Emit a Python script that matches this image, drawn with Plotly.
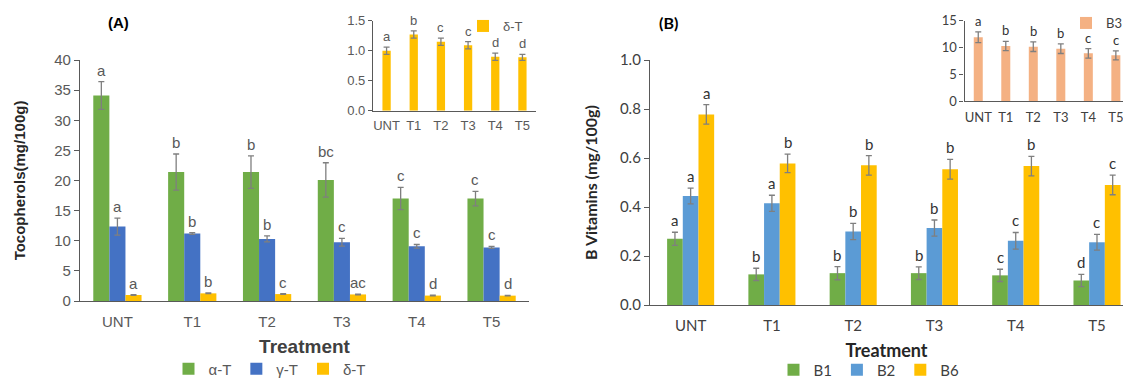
import plotly.graph_objects as go

W, H = 1123, 379

treatments = ["UNT", "T1", "T2", "T3", "T4", "T5"]

# Panel A: tocopherols (mg/100g)
alpha_T = [34.1, 21.4, 21.4, 20.1, 17.0, 17.0]
alpha_T_err = [2.3, 3.0, 2.7, 2.85, 1.85, 1.2]
alpha_T_letters = ["a", "b", "b", "bc", "c", "c"]
gamma_T = [12.35, 11.2, 10.3, 9.75, 9.08, 8.9]
gamma_T_err = [1.4, 0.15, 0.5, 0.65, 0.3, 0.15]
gamma_T_letters = ["a", "b", "b", "c", "c", "c"]
delta_T = [1.0, 1.27, 1.15, 1.09, 0.90, 0.89]
delta_T_err = [0.06, 0.06, 0.06, 0.06, 0.06, 0.05]
delta_T_letters = ["a", "b", "c", "ac", "d", "d"]
delta_T_inset_letters = ["a", "b", "c", "c", "d", "d"]

# Panel B: B vitamins (mg/100g)
B1 = [0.27, 0.125, 0.13, 0.13, 0.121, 0.10]
B1_err = [0.027, 0.025, 0.027, 0.026, 0.025, 0.025]
B1_letters = ["a", "b", "b", "b", "c", "d"]
B2 = [0.445, 0.415, 0.30, 0.314, 0.262, 0.256]
B2_err = [0.032, 0.033, 0.033, 0.033, 0.034, 0.032]
B2_letters = ["a", "a", "b", "b", "c", "c"]
B6 = [0.778, 0.578, 0.570, 0.554, 0.567, 0.49]
B6_err = [0.04, 0.038, 0.04, 0.04, 0.04, 0.04]
B6_letters = ["a", "b", "b", "b", "b", "c"]
B3 = [11.9, 10.27, 10.15, 9.77, 8.9, 8.53]
B3_err = [1.0, 0.85, 0.9, 0.9, 0.9, 0.85]
B3_letters = ["a", "b", "b", "b", "c", "c"]

GREEN, BLUE_A, BLUE_B, YELLOW, ORANGE = "#70AD47", "#4472C4", "#5B9BD5", "#FFC000", "#F4B183"
ERR = "#7F7F7F"
FA = "Liberation Sans, Arial, sans-serif"
FB = "Lato, Open Sans, sans-serif"

def px(x0, x1):
    return [x0 / W, x1 / W]

def py(top, bottom):
    return [(H - bottom) / H, (H - top) / H]

fig = go.Figure()
annotations = []

def add_series(name, vals, errs, letters, color, xa, ya, width, offset, pxcat,
               legend, font, lsize, lcolor):
    fig.add_trace(go.Bar(
        x=treatments, y=vals, name=name, xaxis=xa, yaxis=ya,
        width=width, offset=offset, marker=dict(color=color, line=dict(width=0)),
        error_y=dict(type="data", array=errs, color=ERR, thickness=1.3, width=3),
        legend=legend,
    ))
    shift = (offset + width / 2) * pxcat
    for t, v, e, l in zip(treatments, vals, errs, letters):
        annotations.append(dict(
            x=t, y=v + e, xref=xa, yref=ya, text=l, showarrow=False,
            xshift=shift, yshift=1, yanchor="bottom",
            font=dict(family=font, size=lsize, color=lcolor)))

# main A
wA = 0.215
pxA = (529 - 80) / 6.0
add_series("α-T", alpha_T, alpha_T_err, alpha_T_letters, GREEN, "x", "y", wA, -1.5 * wA, pxA, "legend", FA, 15, "#595959")
add_series("γ-T", gamma_T, gamma_T_err, gamma_T_letters, BLUE_A, "x", "y", wA, -0.5 * wA, pxA, "legend", FA, 15, "#595959")
add_series("δ-T", delta_T, delta_T_err, delta_T_letters, YELLOW, "x", "y", wA, 0.5 * wA, pxA, "legend", FA, 15, "#595959")
# inset A
wAi = 0.305
add_series("δ-T", delta_T, delta_T_err, delta_T_inset_letters, YELLOW, "x2", "y2", wAi, -0.5 * wAi, (536 - 373) / 6.0, "legend2", FA, 13, "#595959")
# main B
wB = 0.193
pxB = 473 / 5.82
add_series("B1", B1, B1_err, B1_letters, GREEN, "x3", "y3", wB, -1.5 * wB, pxB, "legend3", FB, 15, "#333333")
add_series("B2", B2, B2_err, B2_letters, BLUE_B, "x3", "y3", wB, -0.5 * wB, pxB, "legend3", FB, 15, "#333333")
add_series("B6", B6, B6_err, B6_letters, YELLOW, "x3", "y3", wB, 0.5 * wB, pxB, "legend3", FB, 15, "#333333")
# inset B
wBi = 0.327
add_series("B3", B3, B3_err, B3_letters, ORANGE, "x4", "y4", wBi, -0.5 * wBi, 158.5 / 5.76, "legend4", FB, 13, "#333333")

axis_common = dict(showline=True, linecolor="#595959", linewidth=1.3, showgrid=False, zeroline=False)

annotations.append(dict(x=118 / W, y=(H - 22) / H, xref="paper", yref="paper", text="<b>(A)</b>",
                        xanchor="center", yanchor="middle",
                        showarrow=False, font=dict(family=FA, size=15, color="#000000")))
annotations.append(dict(x=668 / W, y=(H - 22) / H, xref="paper", yref="paper", text="<b>(B)</b>",
                        xanchor="center", yanchor="middle",
                        showarrow=False, font=dict(family=FB, size=16, color="#000000")))

def leg(x, y, font, size=14, color="#595959", xanchor="left"):
    return dict(x=x / W, y=(H - y) / H, xanchor=xanchor, yanchor="middle", orientation="h",
                bgcolor="rgba(0,0,0,0)", borderwidth=0, font=dict(family=font, size=size, color=color),
                itemwidth=30, tracegroupgap=0)

fig.update_layout(
    width=W, height=H, margin=dict(l=0, r=0, t=0, b=0, autoexpand=False),
    paper_bgcolor="white", plot_bgcolor="rgba(0,0,0,0)",
    barmode="overlay",
    xaxis=dict(domain=px(80, 529), anchor="y", range=[-0.5, 5.5], ticks="", ticklabelstandoff=7,
               tickfont=dict(family=FA, size=15, color="#595959"),
               title=dict(text="<b>Treatment</b>", standoff=10, font=dict(family=FA, size=19, color="#404040")),
               **axis_common),
    yaxis=dict(domain=py(60, 301), anchor="x", range=[0, 40], dtick=5, ticks="outside", ticklen=5,
               tickcolor="#595959", tickfont=dict(family=FA, size=15, color="#595959"),
               title=dict(text="<b>Tocopherols(mg/100g)</b>", standoff=24, font=dict(family=FA, size=15, color="#262626")),
               **axis_common),
    xaxis2=dict(domain=px(373, 536), anchor="y2", range=[-0.5, 5.5], ticks="", ticklabelstandoff=3,
                tickfont=dict(family=FA, size=13, color="#595959"), **axis_common),
    yaxis2=dict(domain=py(20.7, 110.7), anchor="x2", range=[0, 1.5], dtick=0.5, tickformat=".1f",
                ticks="outside", ticklen=4, tickcolor="#595959",
                tickfont=dict(family=FA, size=13, color="#595959"), **axis_common),
    xaxis3=dict(domain=px(650, 1123), anchor="y3", range=[-0.5, 5.32], ticks="", ticklabelstandoff=7,
                tickfont=dict(family=FB, size=15, color="#404040"),
                title=dict(text="<b>Treatment</b>", standoff=11, font=dict(family=FB, size=18, color="#262626")),
                **axis_common),
    yaxis3=dict(domain=py(60, 305), anchor="x3", range=[0, 1.0], dtick=0.2, tickformat=".1f",
                ticks="outside", ticklen=5, tickcolor="#595959",
                tickfont=dict(family=FB, size=15, color="#404040"),
                title=dict(text="<b>B Vitamins (mg/100g)</b>", standoff=18, font=dict(family=FB, size=16, color="#262626")),
                **axis_common),
    xaxis4=dict(domain=px(964.5, 1123), anchor="y4", range=[-0.5, 5.26], ticks="", ticklabelstandoff=4,
                tickfont=dict(family=FB, size=13, color="#404040"), **axis_common),
    yaxis4=dict(domain=py(20.7, 101), anchor="x4", range=[0, 15], dtick=5,
                ticks="outside", ticklen=4, tickcolor="#595959",
                tickfont=dict(family=FB, size=13, color="#404040"), **axis_common),
    legend=leg(270, 369, FA, 15, xanchor="center"),
    legend2=leg(463, 26, FA, 13),
    legend3=leg(869, 370, FB, 15, "#404040", xanchor="center"),
    legend4=leg(1066, 23, FB, 13, "#404040"),
    annotations=annotations,
)

fig.write_html("out.html", config={"displayModeBar": False},
               post_script="document.body.style.margin='0px';document.body.style.overflow='hidden';")
